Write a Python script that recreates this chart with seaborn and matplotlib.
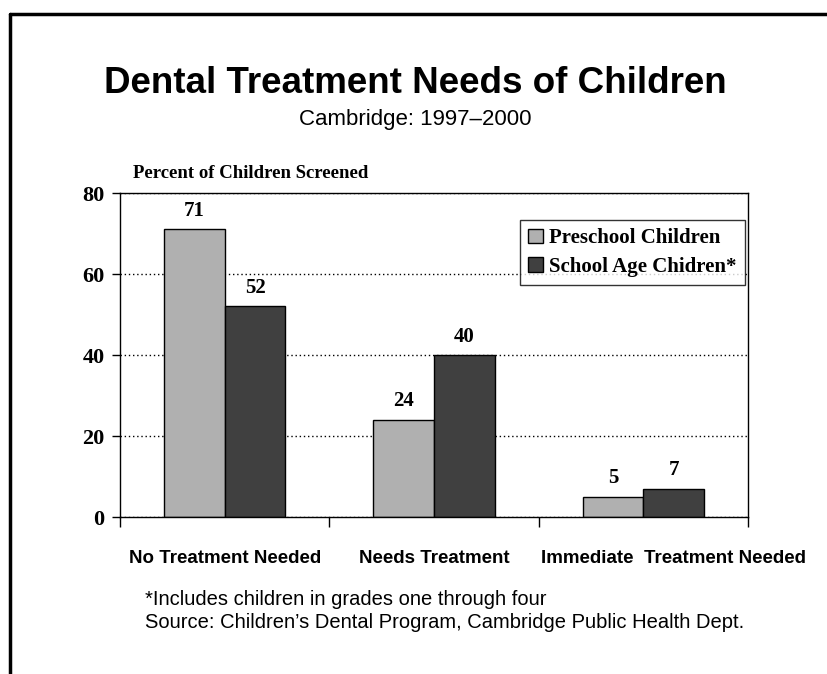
import pandas as pd
import seaborn as sns
import matplotlib.pyplot as plt
from matplotlib.lines import Line2D
import matplotlib.transforms as mtransforms

categories = ["No Treatment Needed", "Needs Treatment", "Immediate  Treatment Needed"]
groups = ["Preschool Children", "School Age Chidren*"]
preschool = [71, 24, 5]
school_age = [52, 40, 7]
y_ticks = [0, 20, 40, 60, 80]

df = pd.DataFrame({
    "category": categories * 2,
    "group": [groups[0]] * 3 + [groups[1]] * 3,
    "value": preschool + school_age,
})

sns.set_style("white")
plt.rcParams.update({"text.color": "black", "axes.labelcolor": "black",
                     "xtick.color": "black", "ytick.color": "black"})
serif = ["Liberation Serif", "DejaVu Serif"]
sans = ["Liberation Sans", "DejaVu Sans"]

fig = plt.figure(figsize=(8.27, 6.74), dpi=100)
ax = fig.add_axes([0.1451, 0.2329, 0.7594, 0.4807])

sns.barplot(data=df, x="category", y="value", hue="group", order=categories,
            hue_order=groups, palette=["#b0b0b0", "#404040"], width=0.58,
            edgecolor="black", linewidth=1, saturation=1, ax=ax)

ax.set_xlim(-0.5, 2.5)
ax.set_ylim(0, 80)
ax.set_yticks(y_ticks)
ax.set_yticklabels([str(t) for t in y_ticks], family=serif, fontweight="bold", fontsize=16)
ax.yaxis.grid(True, linestyle=(0, (1, 2)), color="black", linewidth=1)
ax.set_axisbelow(True)
ax.tick_params(axis="y", direction="out", length=6, width=1, color="black", pad=5, left=True)

# category separators as ticks on the base line
ax.set_xticks([-0.5, 0.5, 1.5, 2.5], minor=True)
ax.tick_params(axis="x", which="minor", direction="out", length=7, width=1, color="black", bottom=True)
ax.tick_params(axis="x", which="major", length=0, pad=24)
ax.set_xticklabels(categories, family=sans, fontweight="bold", fontsize=13.5)
lbl = ax.get_xticklabels()[2]
lbl.set_transform(lbl.get_transform() + mtransforms.ScaledTranslation(0.3, 0, fig.dpi_scale_trans))
ax.set_xlabel("")
ax.set_ylabel("")

for s in ax.spines.values():
    s.set_color("black")
    s.set_linewidth(1)

for cont in ax.containers:
    ax.bar_label(cont, padding=6, family=serif, fontweight="bold", fontsize=15)

leg = ax.legend(loc="upper right", bbox_to_anchor=(0.995, 0.917), frameon=True, fancybox=False,
                edgecolor="black", handlelength=0.7, handleheight=0.7, handletextpad=0.3,
                borderpad=0.4, labelspacing=0.4, borderaxespad=0,
                prop={"family": serif, "weight": "bold", "size": 15})
leg.get_frame().set_linewidth(1)

fig.text(0.502, 0.876, "Dental Treatment Needs of Children", ha="center", va="center",
         family=sans, fontweight="bold", fontsize=26.5)
fig.text(0.502, 0.822, "Cambridge: 1997\u20132000", ha="center", va="center",
         family=sans, fontsize=16)
fig.text(0.161, 0.742, "Percent of Children Screened", ha="left", va="center",
         family=serif, fontweight="bold", fontsize=13.5)
fig.text(0.175, 0.111, "*Includes children in grades one through four", ha="left", va="center",
         family=sans, fontsize=14.5)
fig.text(0.175, 0.077, "Source: Children\u2019s Dental Program, Cambridge Public Health Dept.",
         ha="left", va="center", family=sans, fontsize=14.5)

# page frame
fig.add_artist(Line2D([0.012, 0.012], [0.0, 0.979], color="black", linewidth=2.5, transform=fig.transFigure))
fig.add_artist(Line2D([0.012, 1.0], [0.979, 0.979], color="black", linewidth=2.5, transform=fig.transFigure))

fig.savefig("out.png", dpi=100)
